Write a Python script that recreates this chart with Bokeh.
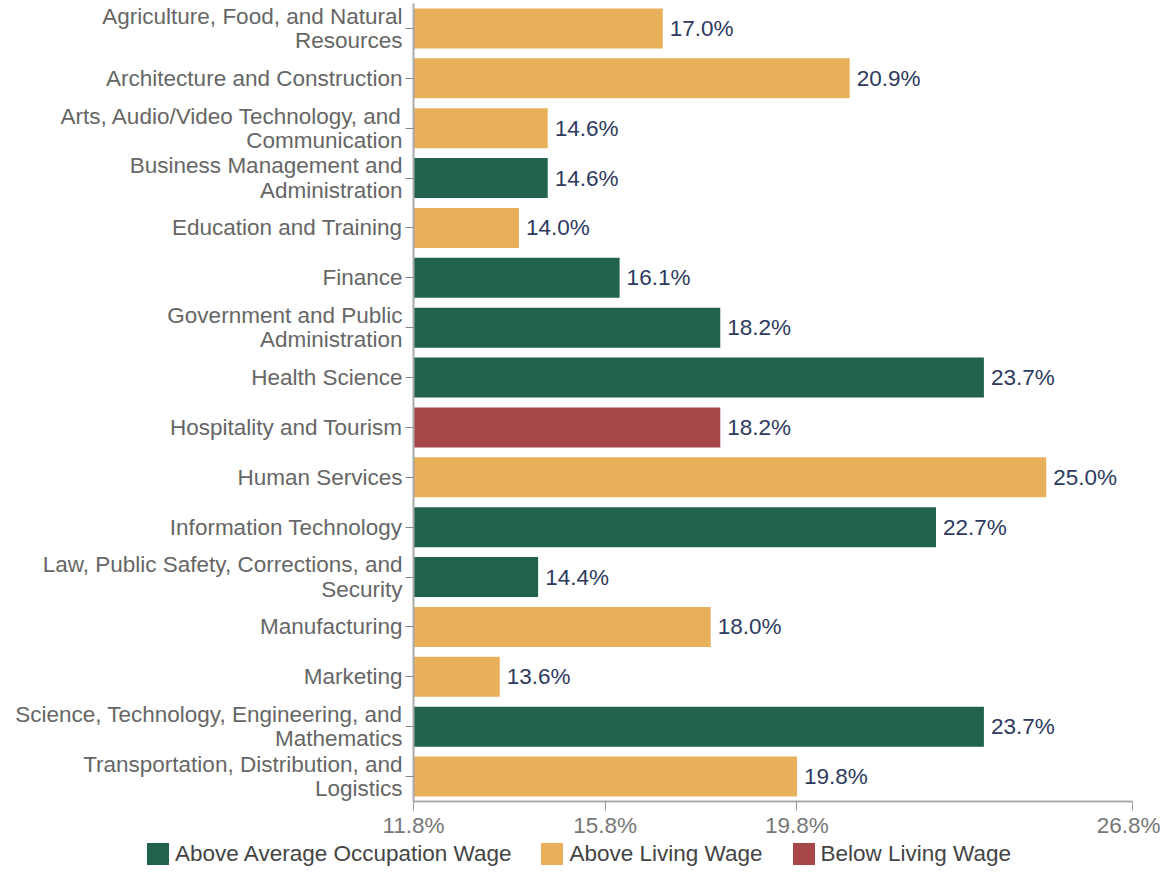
from bokeh.plotting import figure
from bokeh.layouts import column
from bokeh.models import (ColumnDataSource, FactorRange, Range1d, FixedTicker, Div)
from bokeh.core.properties import value
from bokeh.embed import file_html
from bokeh.resources import INLINE

categories = [
    "Agriculture, Food, and Natural\nResources",
    "Architecture and Construction",
    "Arts, Audio/Video Technology, and\nCommunication",
    "Business Management and\nAdministration",
    "Education and Training",
    "Finance",
    "Government and Public\nAdministration",
    "Health Science",
    "Hospitality and Tourism",
    "Human Services",
    "Information Technology",
    "Law, Public Safety, Corrections, and\nSecurity",
    "Manufacturing",
    "Marketing",
    "Science, Technology, Engineering, and\nMathematics",
    "Transportation, Distribution, and\nLogistics",
]
values = [17.0, 20.9, 14.6, 14.6, 14.0, 16.1, 18.2, 23.7, 18.2, 25.0,
          22.7, 14.4, 18.0, 13.6, 23.7, 19.8]
groups = ["Above Living Wage", "Above Living Wage", "Above Living Wage",
          "Above Average Occupation Wage", "Above Living Wage",
          "Above Average Occupation Wage", "Above Average Occupation Wage",
          "Above Average Occupation Wage", "Below Living Wage",
          "Above Living Wage", "Above Average Occupation Wage",
          "Above Average Occupation Wage", "Above Living Wage",
          "Above Living Wage", "Above Average Occupation Wage",
          "Above Living Wage"]
legend_order = ["Above Average Occupation Wage", "Above Living Wage", "Below Living Wage"]
group_colors = {"Above Average Occupation Wage": "#22634b",
                "Above Living Wage": "#e8b05a",
                "Below Living Wage": "#a8474a"}
x_ticks = [11.8, 15.8, 19.8, 26.8]
x_min, x_max = 11.8, 26.8

FONT = "Liberation Sans"
FS = "22.5px"

p = figure(width=1160, height=840, output_backend="svg", toolbar_location=None,
           y_range=FactorRange(factors=list(reversed(categories)), range_padding=0),
           x_range=Range1d(x_min, x_max),
           min_border_left=413, min_border_right=28, min_border_top=3,
           min_border_bottom=38)
p.outline_line_color = None
p.grid.visible = False
p.background_fill_color = "white"

src = ColumnDataSource(dict(
    cat=categories, val=values,
    lbl=[f"{v:.1f}%" for v in values],
))

for g in legend_order:
    idx = [i for i, gg in enumerate(groups) if gg == g]
    s = ColumnDataSource(dict(cat=[categories[i] for i in idx],
                              val=[values[i] for i in idx],
                              left=[x_min] * len(idx)))
    p.hbar(y="cat", left="left", right="val", height=0.8,
           color=group_colors[g], line_color=None, source=s)

p.text(x="val", y="cat", text="lbl", source=src, x_offset=7,
       text_baseline="middle", text_align="left", text_font=value(FONT),
       text_font_size=FS, text_color="#2d3a5e")

# y axis
yax = p.yaxis[0]
yax.major_label_text_font = FONT
yax.major_label_text_font_size = FS
yax.major_label_text_color = "#666666"
yax.major_label_text_line_height = 0.97
yax.major_label_standoff = 3
yax.major_tick_out = 8
yax.major_tick_in = 0
yax.major_tick_line_color = "#888888"
yax.axis_line_color = "#aaaaaa"
yax.axis_line_width = 2

# x axis
xax = p.xaxis[0]
xax.ticker = FixedTicker(ticks=x_ticks)
xax.major_label_overrides = {t: f"{t:.1f}%" for t in x_ticks}
xax.major_label_text_font = FONT
xax.major_label_text_font_size = FS
xax.major_label_text_color = "#777777"
xax.major_tick_out = 9
xax.major_tick_in = 0
xax.minor_tick_line_color = None
xax.major_tick_line_color = "#999999"
xax.axis_line_color = "#aaaaaa"
xax.axis_line_width = 2
xax.major_label_standoff = 2

# legend strip below the chart
parts = []
for g in legend_order:
    parts.append(
        f'<span style="display:inline-flex;align-items:center;margin-right:30px;">'
        f'<span style="display:inline-block;width:22px;height:22px;'
        f'background:{group_colors[g]};margin-right:6px;"></span>'
        f'<span>{g}</span></span>'
    )
legend_div = Div(
    text="".join(parts), width=1160, height=28, margin=(0, 0, 0, 0),
    styles={"font-family": FONT, "font-size": FS, "color": "#444444",
            "padding-left": "147px", "line-height": "28px",
            "white-space": "nowrap"},
)

layout = column(p, legend_div, spacing=0)
open("out.html", "w").write(file_html(layout, INLINE))
